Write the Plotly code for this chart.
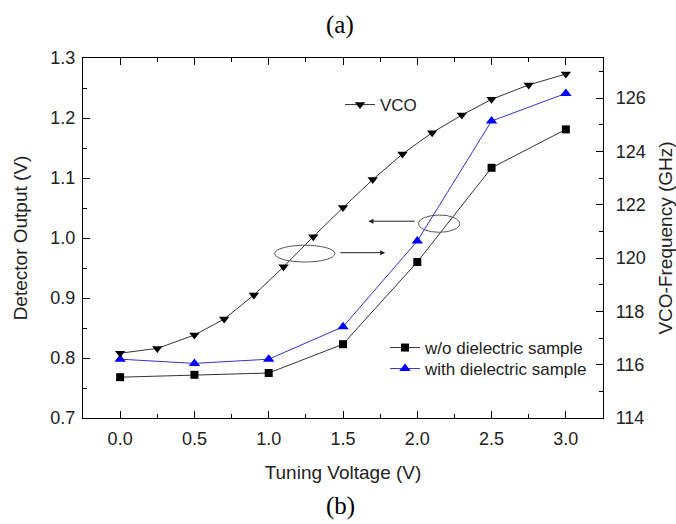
import plotly.graph_objects as go

# ---- data ----
x_det = [0.0, 0.5, 1.0, 1.5, 2.0, 2.5, 3.0]
wo_sample = [0.768, 0.772, 0.775, 0.823, 0.960, 1.117, 1.181]
with_sample = [0.798, 0.791, 0.798, 0.852, 0.995, 1.195, 1.241]

x_vco = [0.0, 0.25, 0.5, 0.7, 0.9, 1.1, 1.3, 1.5, 1.7, 1.9, 2.1, 2.3, 2.5, 2.75, 3.0]
vco_freq = [116.43, 116.61, 117.11, 117.71, 118.61, 119.67, 120.80, 121.89,
            122.94, 123.90, 124.70, 125.36, 125.95, 126.49, 126.90]

x_ticks = [0.0, 0.5, 1.0, 1.5, 2.0, 2.5, 3.0]
y_ticks = [0.7, 0.8, 0.9, 1.0, 1.1, 1.2, 1.3]
y2_ticks = [114, 116, 118, 120, 122, 124, 126]

FONT = "Arial, Liberation Sans, sans-serif"
TXT = "#222222"

fig = go.Figure()
fig.add_trace(go.Scatter(
    x=x_det, y=wo_sample, name="w/o dielectric sample", mode="lines+markers",
    line=dict(color="#333333", width=1),
    marker=dict(symbol="square", size=8, color="black"), legend="legend"))
fig.add_trace(go.Scatter(
    x=x_det, y=with_sample, name="with dielectric sample", mode="lines+markers",
    line=dict(color="#3333cc", width=1),
    marker=dict(symbol="triangle-up", size=10, color="#0000ff"), legend="legend3"))
fig.add_trace(go.Scatter(
    x=x_vco, y=vco_freq, name="VCO", mode="lines+markers", yaxis="y2",
    line=dict(color="#333333", width=1),
    marker=dict(symbol="triangle-down", size=9, color="black"), legend="legend2"))

# ellipses and arrows
fig.add_shape(type="circle", xref="x", yref="y", x0=1.04, x1=1.446, y0=0.960, y1=0.988,
              line=dict(color="#555555", width=1))
fig.add_shape(type="circle", xref="x", yref="y", x0=2.009, x1=2.286, y0=1.0095, y1=1.0383,
              line=dict(color="#555555", width=1))
fig.add_annotation(x=1.784, y=0.9755, ax=1.473, ay=0.9755, xref="x", yref="y",
                   axref="x", ayref="y", text="", showarrow=True, arrowhead=2,
                   arrowsize=1, arrowwidth=1, arrowcolor="#222222")
fig.add_annotation(x=1.671, y=1.028, ax=1.993, ay=1.028, xref="x", yref="y",
                   axref="x", ayref="y", text="", showarrow=True, arrowhead=2,
                   arrowsize=1, arrowwidth=1, arrowcolor="#222222")

SERIF = "Liberation Serif, Times New Roman, serif"
fig.add_annotation(text="(a)", xref="paper", yref="paper", x=(340 - 83) / 520, y=(418 - 25) / 360,
                   xanchor="center", yanchor="middle",
                   showarrow=False, font=dict(family=SERIF, size=25, color="black"))
fig.add_annotation(text="(b)", xref="paper", yref="paper", x=(340 - 83) / 520, y=(418 - 506) / 360,
                   xanchor="center", yanchor="middle",
                   showarrow=False, font=dict(family=SERIF, size=25, color="black"))

axis_common = dict(showgrid=False, zeroline=False, showline=True, linecolor="black", linewidth=1.2,
                   ticks="inside", ticklen=7, tickwidth=1, tickcolor="black", automargin=False,
                   tickfont=dict(family=FONT, size=18, color=TXT))
TFONT = dict(size=19, family=FONT, color=TXT)

leg_common = dict(xanchor="left", yanchor="middle", bgcolor="rgba(0,0,0,0)",
                  font=dict(family=FONT, size=17, color=TXT))

fig.update_layout(
    width=676, height=524,
    margin=dict(l=83, r=73, t=58, b=106),
    paper_bgcolor="white", plot_bgcolor="white",
    font=dict(family=FONT, size=17, color=TXT),
    xaxis=dict(**axis_common, range=[-0.25, 3.25], tickvals=x_ticks,
               ticktext=[f"{v:.1f}" for v in x_ticks], mirror="ticks", ticklabelstandoff=4,
               minor=dict(ticks="inside", ticklen=4, dtick=0.25, tickcolor="black"),
               title=dict(text="Tuning Voltage (V)", font=TFONT, standoff=17)),
    yaxis=dict(**axis_common, range=[0.7, 1.3], tickvals=y_ticks,
               ticktext=[f"{v:.1f}" for v in y_ticks], mirror=True, ticklabelstandoff=3,
               minor=dict(ticks="inside", ticklen=4, dtick=0.05, tickcolor="black"),
               title=dict(text="Detector Output (V)", font=TFONT, standoff=17)),
    yaxis2=dict(**axis_common, overlaying="y", side="right", range=[114, 127.5],
                tickvals=y2_ticks, ticktext=[str(v) for v in y2_ticks], ticklabelstandoff=8,
                minor=dict(ticks="inside", ticklen=4, dtick=1, tickcolor="black"),
                title=dict(text="VCO-Frequency (GHz)", font=TFONT, standoff=13)),
    legend=dict(x=(385 - 83) / 520, y=(418 - 348) / 360, **leg_common),
    legend3=dict(x=(385 - 83) / 520, y=(418 - 369) / 360, **leg_common),
    legend2=dict(x=(340 - 83) / 520, y=(418 - 105) / 360, **leg_common),
    showlegend=True,
)

fig.write_html("out.html", config={"displayModeBar": False},
               post_script="document.body.style.margin='0';")
